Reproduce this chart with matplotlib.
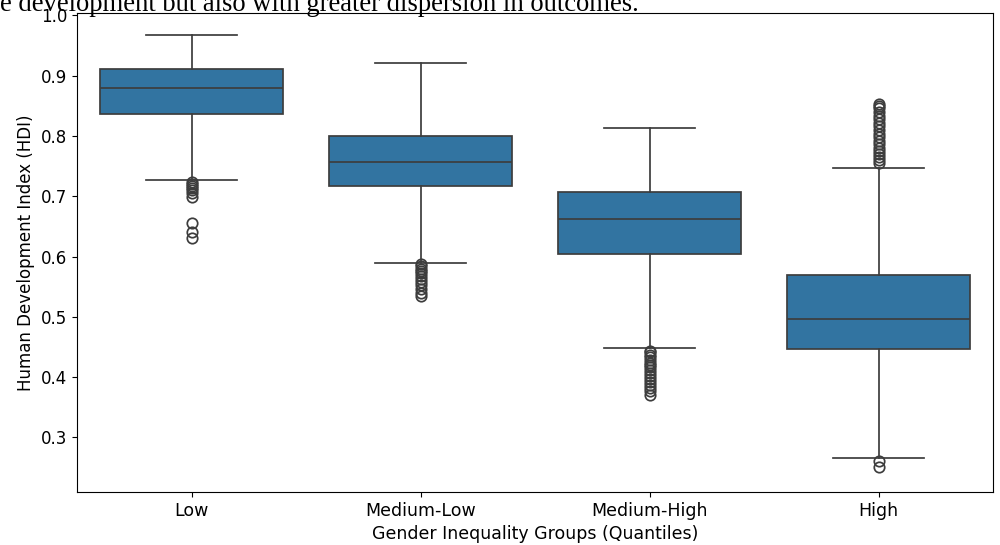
import numpy as np
import matplotlib.pyplot as plt

groups = ['Low', 'Medium-Low', 'Medium-High', 'High']
whislo = [0.727, 0.590, 0.448, 0.266]
q1 = [0.837, 0.717, 0.604, 0.446]
med = [0.879, 0.757, 0.662, 0.497]
q3 = [0.911, 0.800, 0.707, 0.569]
whishi = [0.967, 0.921, 0.814, 0.747]

fliers_low = [0.723, 0.720, 0.717, 0.714, 0.711, 0.706, 0.698, 0.655, 0.640, 0.630]
fliers_medlow = [0.587, 0.584, 0.580, 0.576, 0.572, 0.568, 0.563, 0.558, 0.552, 0.546, 0.540, 0.535]
fliers_medhigh = [0.444, 0.441, 0.437, 0.433, 0.428, 0.424, 0.420, 0.416, 0.412, 0.407,
                  0.402, 0.397, 0.392, 0.387, 0.382, 0.377, 0.370]
fliers_high = [0.853, 0.850, 0.846, 0.840, 0.834, 0.828, 0.822, 0.816, 0.810, 0.804,
               0.798, 0.792, 0.786, 0.780, 0.775, 0.770, 0.765, 0.760, 0.756,
               0.261, 0.251]
fliers = [fliers_low, fliers_medlow, fliers_medhigh, fliers_high]

stats = []
for i in range(len(groups)):
    stats.append({'whislo': whislo[i], 'q1': q1[i], 'med': med[i], 'q3': q3[i],
                  'whishi': whishi[i], 'fliers': fliers[i], 'label': groups[i]})

fig = plt.figure(figsize=(10, 5.45), dpi=100)
ax = fig.add_axes([0.077, 0.097, 0.916, 0.879])

lc = '#3d3d3d'
ax.bxp(stats, positions=range(len(groups)), widths=0.8, patch_artist=True,
       boxprops=dict(facecolor='#3274a1', edgecolor=lc, linewidth=1.25),
       medianprops=dict(color=lc, linewidth=1.25),
       whiskerprops=dict(color=lc, linewidth=1.25),
       capprops=dict(color=lc, linewidth=1.25),
       flierprops=dict(marker='o', markerfacecolor='none', markeredgecolor=lc,
                       markersize=7.5, markeredgewidth=1.25))

ax.set_xlim(-0.5, 3.5)
ax.set_ylim(0.209, 1.004)
ax.set_yticks([0.3, 0.4, 0.5, 0.6, 0.7, 0.8, 0.9, 1.0])
ax.tick_params(axis='x', labelsize=12.5)
ax.tick_params(axis='y', labelsize=12)
ax.set_xlabel('Gender Inequality Groups (Quantiles)', fontsize=12.5)
ax.set_ylabel('Human Development Index (HDI)', fontsize=12)

# caption fragment from the page above, cut off by the crop
fig.text(0.0, 1.014, 'e development but also with greater dispersion in outcomes.',
         family='Liberation Serif', fontsize=19.2, va='top', ha='left')

fig.savefig('out.png', dpi=100)
